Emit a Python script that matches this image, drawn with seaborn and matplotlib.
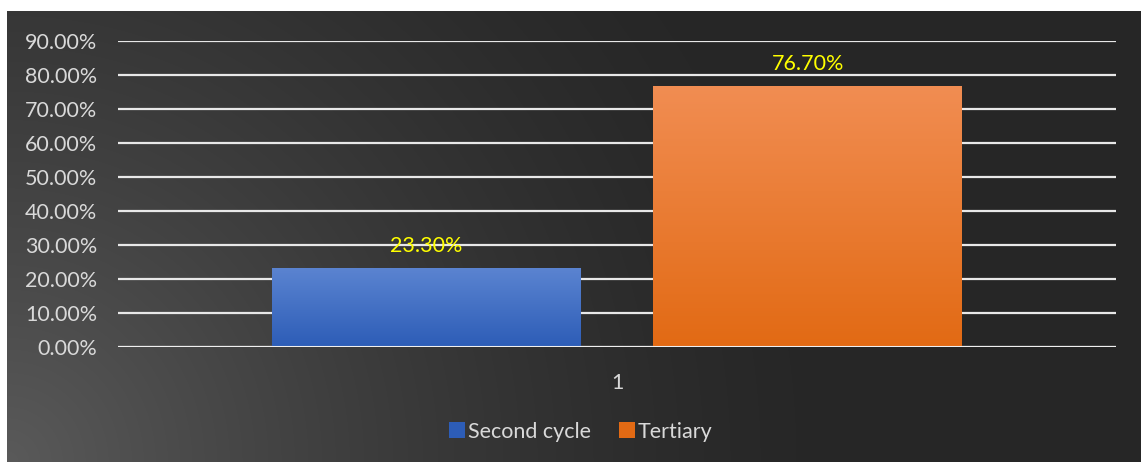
import numpy as np
import pandas as pd
import matplotlib
matplotlib.use("Agg")
import matplotlib.pyplot as plt
import seaborn as sns
from matplotlib.ticker import PercentFormatter
from matplotlib.lines import Line2D

categories = ["1", "1"]
series = ["Second cycle", "Tertiary"]
values = [0.233, 0.767]
value_labels = ["23.30%", "76.70%"]
y_ticks = [0.0, 0.1, 0.2, 0.3, 0.4, 0.5, 0.6, 0.7, 0.8, 0.9]

colors = {"Second cycle": ("#5b84d1", "#2d5db7"), "Tertiary": ("#f18d52", "#e26a14")}
text_col = "#d9d9d9"

sns.set_theme(style="dark")
plt.rcParams['font.family'] = ['Lato', 'DejaVu Sans']

W, H = 1141, 462
fig = plt.figure(figsize=(W / 100, H / 100), dpi=100, facecolor="white")

# dark gradient panel behind the chart
bg = fig.add_axes([7 / W, 0, 1 - 7 / W, (H - 11) / H])
bg.set_axis_off()
yy, xx = np.mgrid[0:451, 0:1134]
d = np.hypot(xx, 451 - yy)
t = np.clip(1 - d / 850, 0, 1) ** 1.5
shade = (0x26 + (0x5a - 0x26) * t) / 255
bg.imshow(np.dstack([shade, shade, shade]), aspect="auto", extent=[0, 1, 0, 1])
bg.set_xlim(0, 1)
bg.set_ylim(0, 1)

ax = fig.add_axes([118 / W, (H - 347) / H, (1116 - 118) / W, (347 - 41) / H])
ax.patch.set_alpha(0)

df = pd.DataFrame({"cat": categories, "series": series, "value": values})
sns.barplot(data=df, x="cat", y="value", hue="series", hue_order=series,
            palette=[colors[s][1] for s in series], width=0.764, gap=0.19,
            linewidth=0, ax=ax, legend=False, zorder=3)

# gradient fill inside each bar
for patch, s in zip(ax.patches, series):
    x0, y0 = patch.get_x(), patch.get_y()
    w, h = patch.get_width(), patch.get_height()
    top = np.array(matplotlib.colors.to_rgb(colors[s][0]))
    bot = np.array(matplotlib.colors.to_rgb(colors[s][1]))
    g = np.linspace(0, 1, 100)[:, None]
    img = top[None, None, :] * (1 - g[..., None]) + bot[None, None, :] * g[..., None]
    im = ax.imshow(np.repeat(img, 2, axis=1), extent=[x0, x0 + w, y0, y0 + h],
                   aspect="auto", zorder=4)
    im.set_clip_path(patch)

for patch, lab in zip(ax.patches, value_labels):
    ax.annotate(lab, (patch.get_x() + patch.get_width() / 2, patch.get_height()),
                xytext=(0, 16), textcoords="offset points", ha="center", va="center",
                color="#ffff00", fontsize=15.5, zorder=6)

ax.set_xlim(-0.5, 0.5)
ax.set_ylim(0, 0.9)
ax.set_yticks(y_ticks)
ax.yaxis.set_major_formatter(PercentFormatter(1.0, decimals=2))
ax.grid(axis="y", color="#e8e8e8", linewidth=1.6, zorder=1)
ax.grid(axis="x", visible=False)
ax.set_axisbelow(True)
for sp in ax.spines.values():
    sp.set_visible(False)
ax.axhline(0, color="#f0f0f0", linewidth=2.2, zorder=5)
ax.tick_params(axis="both", colors=text_col, labelsize=15.5, length=0)
ax.tick_params(axis="y", pad=15)
ax.tick_params(axis="x", pad=19)
ax.set_xlabel("")
ax.set_ylabel("")

handles = [Line2D([0], [0], marker="s", linestyle="", markersize=11,
                  markerfacecolor=colors[s][1], markeredgewidth=0) for s in series]
fig.legend(handles, series, loc="center", bbox_to_anchor=(581 / W, (H - 432) / H),
           ncol=2, frameon=False, fontsize=15.5, labelcolor=text_col,
           handletextpad=0.15, columnspacing=1.3, handlelength=0.7)

fig.savefig("out.png", dpi=100, facecolor="white")
